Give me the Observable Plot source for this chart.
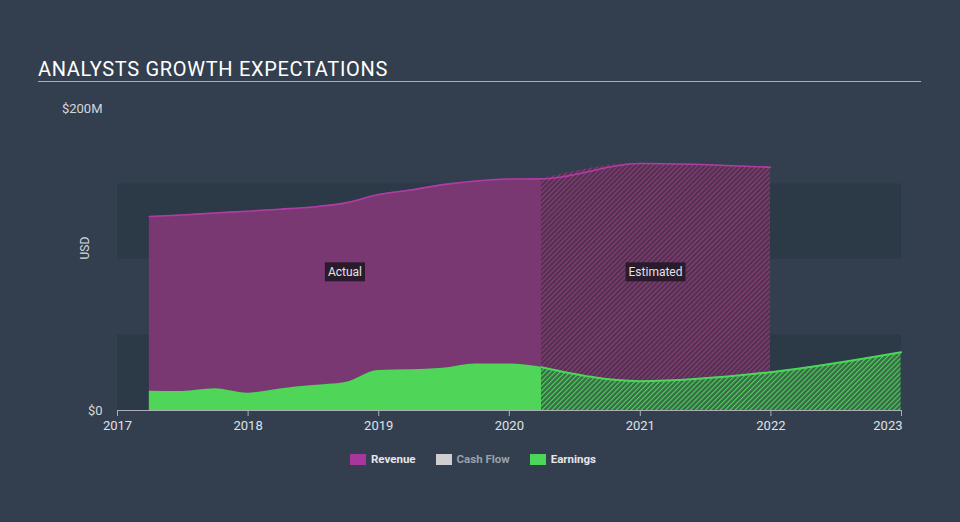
<!DOCTYPE html>
<html>
<head>
<meta charset="utf-8">
<script src="https://cdn.jsdelivr.net/npm/d3@7"></script>
<script src="https://cdn.jsdelivr.net/npm/@observablehq/plot@0.6"></script>
<style>
  html, body { margin: 0; padding: 0; }
  body { width: 960px; height: 522px; overflow: hidden; background: #333f4f; font-family: Roboto, "Noto Sans", sans-serif; }
  #head { height: 90px; box-sizing: border-box; padding-top: 57px; }
  #title { margin: 0 39px 0 38px; color: #ffffff; font-size: 20px; line-height: 24px; border-bottom: 1.5px solid #aab0b8; letter-spacing: 0.68px; }
  #chart { height: 355px; }
  #legend { display: flex; justify-content: center; align-items: center; gap: 20px; padding-top: 7px; padding-right: 14px; font-size: 11.5px; font-weight: bold; }
  .item { display: flex; align-items: center; gap: 5px; }
  .sw { width: 16px; height: 11px; display: inline-block; }
</style>
</head>
<body>
<div id="head"><div id="title">ANALYSTS GROWTH EXPECTATIONS</div></div>
<div id="chart"></div>
<div id="legend"></div>
<script>
// ---- data ----
const revActualDates = ["2017-03-31","2017-06-30","2017-09-30","2017-12-31","2018-03-31","2018-06-30","2018-09-30","2018-12-31","2019-03-31","2019-06-30","2019-09-30","2019-12-31","2020-03-31"];
const revActualValues = [128.5, 129.5, 130.8, 132.0, 133.3, 134.8, 137.5, 143.0, 146.0, 149.6, 152.0, 153.3, 153.4];
const revEstDates = ["2020-03-31","2020-12-31","2021-12-31"];
const revEstValues = [153.4, 163.6, 161.1];
const earnActualDates = ["2017-03-31","2017-06-30","2017-09-30","2017-12-31","2018-03-31","2018-06-30","2018-09-30","2018-12-31","2019-03-31","2019-06-30","2019-09-30","2019-12-31","2020-03-31"];
const earnActualValues = [12.8, 12.6, 14.4, 11.5, 14.3, 16.5, 18.5, 26.5, 27.0, 28.0, 30.8, 30.8, 28.7];
const earnEstDates = ["2020-03-31","2020-12-31","2021-12-31","2022-12-31"];
const earnEstValues = [28.7, 19.4, 25.4, 38.6];
const xTickYears = ["2017","2018","2019","2020","2021","2022","2023"];
const yTickValues = [0, 200];
const yTickLabels = ["$0", "$200M"];
const bandLows = [0, 100];
const bandHighs = [50, 150];
const legendNames = ["Revenue", "Cash Flow", "Earnings"];
const legendColors = ["#a7379c", "#cfcfcf", "#4cd65a"];
const legendTextColors = ["#e4e6ea", "#9aa1aa", "#e4e6ea"];
const phaseNames = ["Actual", "Estimated"];

// ---- build ----
const parse = d3.utcParse("%Y-%m-%d");
const zip = (ds, vs) => ds.map((d, i) => ({date: parse(d), value: vs[i]}));
const revActual = zip(revActualDates, revActualValues);
const revEst = zip(revEstDates, revEstValues);
const revAll = revActual.concat(revEst.slice(1));
const earnActual = zip(earnActualDates, earnActualValues);
const earnEst = zip(earnEstDates, earnEstValues);
const xTicks = xTickYears.map(y => parse(y + "-01-01"));
const xDomain = [xTicks[0], xTicks[xTicks.length - 1]];
const bands = bandLows.map((lo, i) => ({lo, hi: bandHighs[i]}));
const phaseLabels = [
  {text: phaseNames[0], x: new Date((+revActual[0].date + +revActual[revActual.length-1].date) / 2), y: 91.5},
  {text: phaseNames[1], x: new Date((+revEst[0].date + +revEst[revEst.length-1].date) / 2), y: 91.5}
];

function defs() {
  const d = d3.create("svg:defs");
  const p1 = d.append("pattern").attr("id", "hatchRev").attr("patternUnits", "userSpaceOnUse")
    .attr("width", 3.5).attr("height", 3.5).attr("patternTransform", "rotate(45)");
  p1.append("rect").attr("width", 3.5).attr("height", 3.5).attr("fill", "#55304f");
  p1.append("line").attr("x1", 0.5).attr("y1", 0).attr("x2", 0.5).attr("y2", 3.5).attr("stroke", "#87407d").attr("stroke-width", 1.2);
  const p2 = d.append("pattern").attr("id", "hatchEarn").attr("patternUnits", "userSpaceOnUse")
    .attr("width", 3.5).attr("height", 3.5).attr("patternTransform", "rotate(45)");
  p2.append("rect").attr("width", 3.5).attr("height", 3.5).attr("fill", "#3a6a48");
  p2.append("line").attr("x1", 0.5).attr("y1", 0).attr("x2", 0.5).attr("y2", 3.5).attr("stroke", "#4cd65a").attr("stroke-width", 1.2);
  return d.node();
}

const ctx = document.createElement("canvas").getContext("2d");
ctx.font = "12px Roboto";
function phaseBoxes(index, scales) {
  const g = d3.create("svg:g");
  for (const l of phaseLabels) {
    const cx = scales.x(l.x), cy = scales.y(l.y);
    const w = ctx.measureText(l.text).width + 6;
    g.append("rect").attr("x", cx - w / 2).attr("y", cy - 9.5).attr("width", w).attr("height", 19).attr("fill", "#2a1b2c");
    g.append("text").attr("x", cx).attr("y", cy).attr("dy", "0.35em").attr("text-anchor", "middle")
      .attr("fill", "#e2e2e6").attr("font-size", 12).attr("font-family", "Roboto, sans-serif").text(l.text);
  }
  return g.node();
}

const curve = "monotone-x";
const chart = Plot.plot({
  width: 960, height: 355,
  marginLeft: 117, marginRight: 59, marginTop: 18, marginBottom: 35,
  style: {background: "transparent", color: "#d4d8dd", fontFamily: "Roboto, sans-serif", fontSize: "13px", overflow: "visible"},
  x: {type: "utc", domain: xDomain},
  y: {domain: [0, 200]},
  marks: [
    defs,
    Plot.rect(bands, {x1: () => xDomain[0], x2: () => xDomain[1], y1: "lo", y2: "hi", fill: "#2c3947"}),
    Plot.areaY(revActual, {x: "date", y: "value", fill: "#7a3872", curve}),
    Plot.areaY(revEst, {x: "date", y: "value", fill: "url(#hatchRev)", curve}),
    Plot.lineY(revAll, {x: "date", y: "value", stroke: "#b03ca5", strokeWidth: 1.6, curve}),
    Plot.areaY(earnActual, {x: "date", y: "value", fill: "#4fd557", curve}),
    Plot.areaY(earnEst, {x: "date", y: "value", fill: "url(#hatchEarn)", curve}),
    Plot.lineY(earnEst, {x: "date", y: "value", stroke: "#4cd65a", strokeWidth: 2, curve}),
    phaseBoxes,
    Plot.ruleY([0], {stroke: "#a9b0b8", strokeWidth: 1.2}),
    Plot.axisX({ticks: xTicks, tickSize: 6, tickPadding: 4, stroke: "#a9b0b8", fill: "#dfe2e6",
      tickFormat: d => d.getUTCFullYear() === 2023 ? "" : String(d.getUTCFullYear()), label: null}),
    Plot.text([xTicks[xTicks.length - 1]], {x: d => d, frameAnchor: "bottom", dy: 15, dx: 1, textAnchor: "end",
      lineAnchor: "middle", text: d => String(d.getUTCFullYear()), fill: "#dfe2e6"}),
    Plot.axisY({ticks: yTickValues, tickSize: 0, tickPadding: 15, fill: "#d4d8dd",
      tickFormat: d => yTickLabels[yTickValues.indexOf(d)], label: null}),
    Plot.text(["USD"], {frameAnchor: "left", dx: -32, rotate: -90, fill: "#d4d8dd", fontSize: 12})
  ]
});
document.getElementById("chart").appendChild(chart);

const legend = d3.select("#legend");
legendNames.forEach((n, i) => {
  const it = legend.append("div").attr("class", "item");
  it.append("span").attr("class", "sw").style("background", legendColors[i]);
  it.append("span").style("color", legendTextColors[i]).text(n);
});
</script>
</body>
</html>
